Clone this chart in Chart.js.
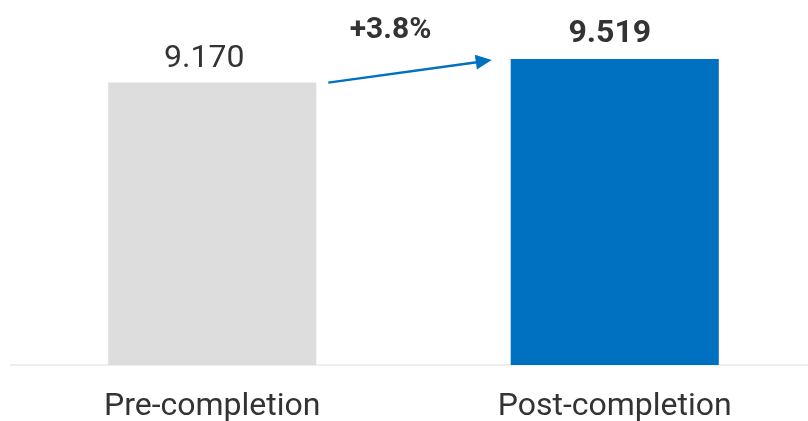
<!DOCTYPE html>
<html><head><meta charset="utf-8">
<script src="https://cdn.jsdelivr.net/npm/chart.js@4/dist/chart.umd.min.js"></script>
<style>
html,body{margin:0;padding:0;background:#fff;overflow:hidden;}
#wrap{width:816px;height:421px;position:relative;}
</style></head>
<body>
<div id="wrap"><canvas id="c"></canvas></div>
<script>
const categories = ["Pre-completion", "Post-completion"];
const values = [9.170, 9.519];
const valueLabels = ["9.170", "9.519"];
const changeLabel = "+3.8%";
const barColors = ["#dddddd", "#0070c0"];

const labelPlugin = {
  id: 'labels',
  afterDatasetsDraw(chart) {
    const ctx = chart.ctx;
    const meta = chart.getDatasetMeta(0);
    const b0 = meta.data[0], b1 = meta.data[1];
    ctx.save();
    ctx.textAlign = 'center';
    ctx.textBaseline = 'alphabetic';
    ctx.fillStyle = '#333333';
    ctx.font = '400 32px Roboto';
    ctx.fillText(valueLabels[0], b0.x - 8, b0.y - 16);
    ctx.font = '700 32px Roboto';
    ctx.fillText(valueLabels[1], b1.x - 5, b1.y - 17);
    // arrow
    const x1 = b0.x + b0.width/2 + 12, y1 = b0.y;
    const x2 = b1.x - b1.width/2 - 19, y2 = b1.y + 1;
    const ang = Math.atan2(y2 - y1, x2 - x1);
    const hl = 16, hw = 7.5;
    const bx = x2 - hl*Math.cos(ang), by = y2 - hl*Math.sin(ang);
    ctx.strokeStyle = '#0070c0';
    ctx.lineWidth = 2.5;
    ctx.beginPath();
    ctx.moveTo(x1, y1);
    ctx.lineTo(bx + 1, by);
    ctx.stroke();
    ctx.fillStyle = '#0070c0';
    ctx.beginPath();
    ctx.moveTo(x2, y2);
    ctx.lineTo(bx + hw*Math.sin(ang), by - hw*Math.cos(ang));
    ctx.lineTo(bx - hw*Math.sin(ang), by + hw*Math.cos(ang));
    ctx.closePath();
    ctx.fill();
    ctx.fillStyle = '#333333';
    ctx.font = '700 30px Roboto';
    ctx.fillText(changeLabel, (x1 + x2)/2 - 19.5, 38);
    ctx.restore();
  }
};

new Chart(document.getElementById('c'), {
  type: 'bar',
  data: {
    labels: categories,
    datasets: [{
      data: values,
      backgroundColor: barColors,
      borderWidth: 0,
      barPercentage: 1,
      categoryPercentage: 0.517
    }]
  },
  options: {
    responsive: true,
    maintainAspectRatio: false,
    animation: false,
    layout: { padding: { left: 11, right: 0, top: 0, bottom: 0 } },
    plugins: { legend: { display: false }, tooltip: { enabled: false } },
    scales: {
      x: {
        grid: { display: false, drawTicks: false },
        border: { display: true, color: '#eeeeee', width: 2 },
        ticks: { color: '#333333', font: { family: 'Roboto', size: 32 }, padding: 23 },
        afterFit(scale) { scale.height = 56; }
      },
      y: {
        display: false,
        min: 5,
        max: 10.39
      }
    }
  },
  plugins: [labelPlugin]
});
</script>
</body></html>
